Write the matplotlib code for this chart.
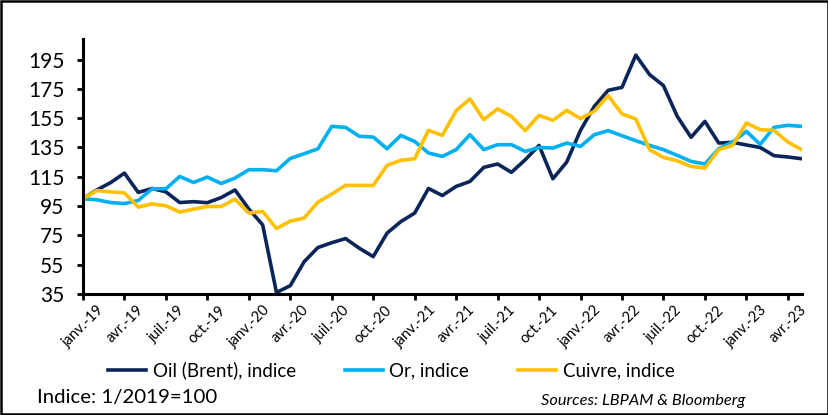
import matplotlib
matplotlib.use("Agg")
import matplotlib.pyplot as plt
from matplotlib.patches import Rectangle

# monthly index values, janv.-19 .. mai-23 (1/2019 = 100)
oil = [100, 106, 111, 117.5, 104.3, 107, 104.7, 97.4, 98, 97.3,
       100.8, 106, 93, 82.2, 36, 40.7, 57, 66.7, 70, 72.8,
       66.2, 60.5, 76.5, 84.4, 90.2, 107, 102.2, 108.4, 111.8, 121.4,
       123.7, 118, 126.6, 136.4, 113.6, 125, 146.7, 163, 174, 176,
       198, 184.7, 177.2, 156.2, 141.9, 152.8, 138, 138.5, 136.7, 135,
       129.4, 128.5, 127.3]
gold = [100, 99.3, 97.4, 96.7, 98.8, 106.8, 106.8, 115.2, 111.1, 114.8,
        110.4, 114.1, 119.8, 119.8, 119.1, 127.5, 130.7, 134.1, 149.4, 148.7,
        142.6, 142.1, 134.1, 143.2, 139.1, 131.2, 128.9, 133.5, 143.7, 133.5,
        136.9, 136.9, 132.3, 135, 134.6, 138, 135.7, 143.7, 146.5, 143,
        139.6, 136.4, 133.5, 129.6, 125.5, 123.7, 134.1, 138.7, 146, 137.1,
        148.7, 150.1, 149.4]
copper = [100, 105.6, 104.7, 104, 94.3, 96.5, 95.2, 90.9, 92.9, 94.7,
          94.7, 99.7, 90.2, 91.3, 79.7, 84.7, 86.8, 97.7, 103.2, 109.1,
          109.1, 109.1, 122.8, 126.2, 127.3, 146.7, 143.2, 160.1, 168.1, 154,
          161.3, 156.2, 146.5, 156.9, 153.5, 160.3, 154.7, 159.7, 170.4, 157.9,
          154.4, 133.5, 128.2, 125.9, 122, 120.9, 133.5, 136.4, 151.7, 147.1,
          146.7, 138.7, 133.5]

tick_labels = ["janv.-19", "avr.-19", "juil.-19", "oct.-19",
               "janv.-20", "avr.-20", "juil.-20", "oct.-20",
               "janv.-21", "avr.-21", "juil.-21", "oct.-21",
               "janv.-22", "avr.-22", "juil.-22", "oct.-22",
               "janv.-23", "avr.-23"]
y_ticks = [35, 55, 75, 95, 115, 135, 155, 175, 195]

plt.rcParams["font.family"] = ["Lato", "DejaVu Sans"]

fig = plt.figure(figsize=(8.29, 4.15), dpi=100)
ax = fig.add_axes([0.1001, 0.2916, 0.8669, 0.6144])

x = list(range(len(oil)))
ax.plot(x, oil, color="#0B2559", lw=2.6, label="Oil (Brent), indice")
ax.plot(x, gold, color="#00B0F0", lw=2.6, label="Or, indice")
ax.plot(x, copper, color="#FFC000", lw=2.6, label="Cuivre, indice")

ax.set_xlim(0, len(oil) - 1)
ax.set_ylim(35, 209)
ax.set_yticks(y_ticks)
ax.set_yticklabels([str(v) for v in y_ticks], fontsize=15)
ax.set_xticks(range(0, 3 * len(tick_labels), 3))
ax.set_xticklabels(tick_labels, rotation=45, ha="center", fontsize=10.5)

for s in ["top", "right"]:
    ax.spines[s].set_visible(False)
for s in ["left", "bottom"]:
    ax.spines[s].set_linewidth(2.2)
ax.tick_params(axis="both", direction="out", width=2.0, length=4.5)
ax.tick_params(axis="y", pad=9)
ax.tick_params(axis="x", pad=2)

fig.legend(loc="center", bbox_to_anchor=(0.472, 0.108), ncol=3,
           frameon=False, fontsize=13.5, handlelength=2.03,
           handletextpad=0.35, columnspacing=2.6)

fig.text(0.045, 0.043, "Indice: 1/2019=100", fontsize=14.7, va="center")
fig.text(0.652, 0.033, "Sources: LBPAM & Bloomberg", fontsize=11.8,
         style="italic", va="center")

fig.patches.append(Rectangle((0.0015, 0.003), 0.997, 0.994, fill=False,
                             lw=1.8, edgecolor="black",
                             transform=fig.transFigure))

fig.savefig("out.png", dpi=100)
